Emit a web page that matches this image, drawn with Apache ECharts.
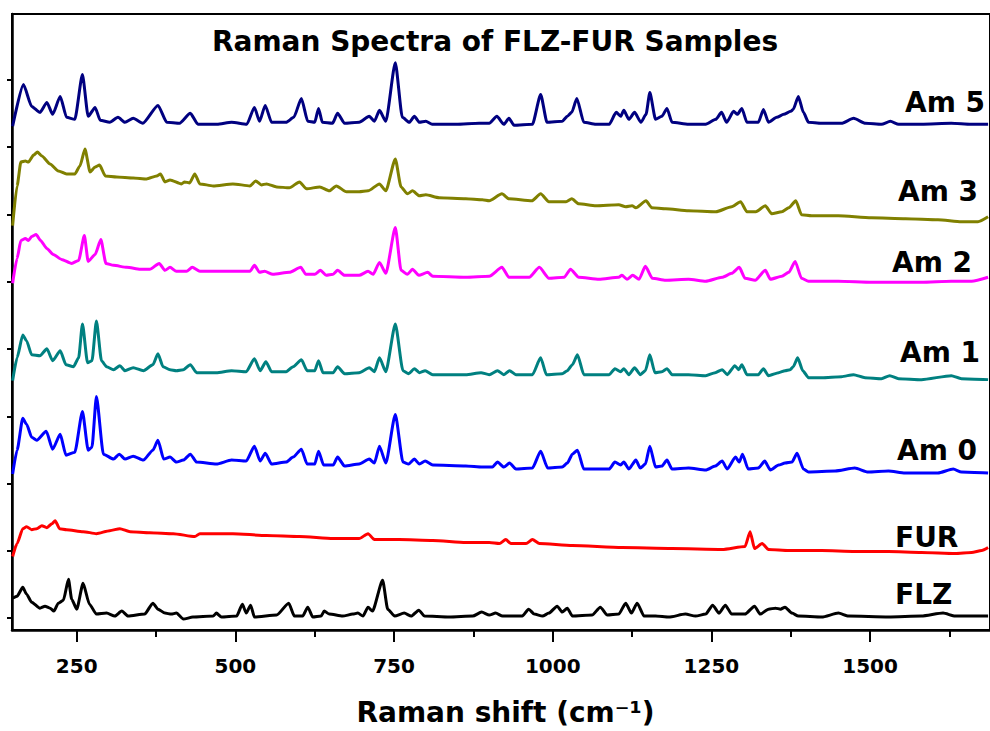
<!DOCTYPE html>
<html>
<head>
<meta charset="utf-8">
<script src="https://cdn.jsdelivr.net/npm/echarts@6/dist/echarts.min.js"></script>
<style>
  html, body { margin: 0; background: #fff; }
  #chart { width: 990px; height: 731px; }
</style>
</head>
<body>
<div id="chart"></div>
<script>
// Raman shift (cm-1) vs intensity (a.u., spectra stacked with offsets)
const sampleNames = ["Am 5", "Am 3", "Am 2", "Am 1", "Am 0", "FUR", "FLZ"];
const majorTicks = [250, 500, 750, 1000, 1250, 1500];
const minorTicks = [375, 625, 875, 1125, 1375, 1625];
const intensityTicks = [12, 80, 147, 215, 283, 351, 418, 486, 554];

const am5 = [[149,507],[166,549],[179,527],[192,521],[203,531],[212,519],[224,537],[234,516],[247,514],[259,559],[268,517],[279,526],[287,513],[302,511],[315,516],[326,511],[339,515],[354,510],[378,528],[392,511],[412,510],[429,520],[441,509],[471,509],[494,511],[518,509],[530,526],[538,512],[547,528],[557,511],[580,511],[592,516],[604,535],[614,512],[625,511],[631,525],[637,511],[653,510],[661,520],[672,510],[695,511],[711,517],[719,512],[727,523],[737,512],[752,571],[763,516],[774,511],[782,517],[790,511],[800,512],[810,509],[848,509],[884,510],[900,510],[912,517],[923,509],[931,515],[939,508],[968,509],[981,539],[991,511],[1015,512],[1023,517],[1030,521],[1038,535],[1049,511],[1068,509],[1089,509],[1100,521],[1107,517],[1112,523],[1120,514],[1129,521],[1139,511],[1147,519],[1153,541],[1162,514],[1172,517],[1180,525],[1188,511],[1214,509],[1241,509],[1257,514],[1266,521],[1274,511],[1285,522],[1291,519],[1298,525],[1306,511],[1324,511],[1332,524],[1340,511],[1353,516],[1364,519],[1375,522],[1379,524],[1387,537],[1395,521],[1403,511],[1423,510],[1455,510],[1474,515],[1493,510],[1518,509],[1532,512],[1545,509],[1581,509],[1628,510],[1659,509],[1686,509]];

const am3 = [[149,407],[156,447],[162,471],[169,472],[174,471],[182,478],[188,481],[195,477],[208,469],[221,462],[234,459],[247,459],[255,467],[263,484],[271,461],[279,466],[286,468],[295,457],[313,456],[339,455],[360,454],[376,457],[382,459],[389,451],[397,453],[415,449],[420,451],[428,450],[436,459],[444,449],[465,447],[496,449],[523,447],[532,452],[541,448],[549,449],[565,446],[585,445],[601,451],[612,444],[633,446],[648,442],[659,447],[675,441],[695,441],[709,442],[727,449],[737,442],[752,474],[761,446],[771,439],[779,442],[790,437],[800,438],[821,435],[863,434],[889,433],[900,432],[920,439],[931,434],[967,432],[981,439],[994,431],[1021,431],[1030,434],[1041,429],[1068,427],[1104,428],[1115,426],[1125,427],[1131,425],[1147,432],[1156,425],[1178,424],[1214,422],[1257,421],[1282,426],[1296,431],[1306,421],[1320,421],[1335,427],[1345,419],[1361,421],[1372,425],[1383,432],[1392,418],[1408,417],[1450,417],[1502,415],[1556,414],[1607,413],[1644,411],[1670,411],[1686,416]];

const am2 = [[149,349],[156,374],[162,392],[169,394],[174,392],[179,396],[186,398],[193,392],[203,384],[213,378],[226,373],[242,369],[253,372],[262,397],[268,371],[279,378],[288,393],[296,369],[308,367],[329,365],[350,363],[365,363],[380,369],[389,362],[397,365],[407,361],[423,361],[432,365],[444,361],[496,361],[523,361],[530,367],[538,360],[546,361],[559,358],[585,360],[603,365],[611,358],[625,358],[634,362],[643,357],[654,358],[661,362],[672,357],[695,357],[709,361],[717,358],[727,370],[737,359],[752,405],[761,362],[771,358],[779,363],[789,357],[803,360],[811,356],[863,355],[900,356],[920,365],[931,355],[963,355],[979,365],[994,354],[1018,355],[1028,363],[1041,355],[1073,353],[1104,355],[1109,357],[1117,353],[1126,357],[1136,353],[1146,366],[1157,354],[1178,352],[1214,353],[1241,351],[1267,355],[1282,359],[1294,365],[1303,354],[1319,352],[1335,362],[1343,353],[1361,356],[1372,360],[1382,371],[1392,354],[1403,351],[1450,351],[1503,350],[1555,350],[1581,350],[1628,351],[1660,351],[1686,355]];

const am1 = [[149,251],[156,274],[165,297],[171,291],[179,277],[192,276],[203,283],[212,271],[224,281],[233,267],[245,265],[253,274],[259,308],[267,269],[274,271],[281,311],[289,271],[297,265],[308,262],[318,266],[326,261],[339,264],[355,261],[370,267],[378,278],[386,265],[397,262],[407,261],[418,262],[429,267],[439,259],[470,259],[494,261],[517,260],[530,273],[539,261],[548,270],[557,260],[580,260],[591,265],[604,272],[613,261],[625,261],[631,271],[638,259],[654,259],[661,265],[672,258],[695,259],[711,264],[719,260],[727,274],[737,260],[752,308],[764,261],[773,258],[782,263],[790,259],[799,261],[811,257],[863,257],[887,259],[900,257],[913,261],[923,257],[932,261],[942,257],[968,257],[981,274],[990,257],[1015,258],[1023,261],[1031,267],[1039,277],[1049,257],[1089,257],[1098,263],[1107,260],[1112,263],[1120,257],[1129,264],[1138,257],[1146,261],[1153,277],[1161,259],[1172,260],[1180,263],[1188,257],[1214,257],[1241,256],[1256,259],[1267,262],[1275,257],[1287,266],[1293,262],[1298,267],[1306,257],[1324,257],[1332,263],[1340,256],[1356,259],[1366,261],[1374,262],[1379,265],[1386,274],[1394,261],[1403,254],[1424,254],[1455,255],[1474,257],[1492,254],[1518,253],[1531,256],[1545,253],[1581,252],[1628,256],[1644,253],[1686,252]];

const am0 = [[149,157],[156,181],[165,213],[171,207],[179,194],[187,191],[202,200],[212,182],[224,197],[233,176],[247,179],[259,220],[268,181],[274,184],[281,235],[292,177],[308,172],[317,177],[326,172],[339,175],[355,171],[370,181],[378,191],[387,172],[397,174],[407,169],[418,171],[429,177],[439,169],[470,167],[494,171],[517,170],[530,185],[539,170],[547,178],[557,167],[580,169],[591,174],[604,182],[613,167],[625,167],[631,180],[639,166],[654,166],[661,174],[672,165],[695,167],[711,172],[719,168],[727,185],[737,168],[752,217],[764,169],[773,167],[782,172],[790,167],[799,170],[811,166],[863,165],[889,164],[905,164],[913,169],[923,164],[932,168],[942,162],[968,163],[981,180],[992,163],[1015,164],[1023,168],[1031,177],[1039,181],[1049,162],[1089,162],[1098,169],[1107,166],[1112,169],[1120,162],[1131,171],[1138,163],[1146,167],[1153,185],[1162,164],[1172,165],[1180,171],[1188,162],[1214,163],[1241,161],[1256,165],[1267,170],[1275,162],[1288,174],[1294,169],[1299,177],[1308,162],[1324,163],[1334,170],[1343,161],[1356,166],[1366,168],[1377,169],[1385,178],[1395,162],[1403,159],[1445,160],[1476,163],[1497,159],[1529,160],[1555,158],[1607,158],[1631,162],[1644,159],[1686,158]];

const fur = [[149,74],[156,87],[165,102],[171,104],[179,101],[187,102],[195,105],[203,103],[211,107],[216,110],[223,102],[234,101],[260,99],[281,97],[302,100],[318,102],[334,99],[365,98],[402,97],[436,94],[444,97],[496,97],[549,95],[601,94],[654,92],[695,92],[709,97],[719,91],[758,91],[811,90],[863,88],[900,88],[916,87],[926,91],[934,87],[958,87],[968,91],[979,87],[1031,85],[1109,83],[1188,82],[1267,81],[1303,84],[1311,99],[1318,82],[1330,87],[1340,81],[1372,80],[1424,80],[1476,79],[1529,79],[1581,78],[1634,77],[1660,78],[1676,80],[1686,83]];

const flz = [[149,32],[156,34],[165,43],[171,36],[179,28],[192,22],[200,24],[208,22],[214,19],[221,27],[229,30],[237,51],[242,31],[250,21],[260,47],[270,26],[281,16],[297,17],[310,14],[321,19],[331,14],[357,16],[370,27],[378,21],[389,17],[399,16],[407,17],[418,11],[433,13],[465,14],[470,17],[478,13],[502,14],[511,26],[517,17],[524,25],[530,13],[565,15],[584,27],[593,14],[606,14],[614,23],[622,13],[635,14],[640,19],[648,16],[669,14],[685,16],[693,17],[701,14],[709,23],[716,19],[732,50],[740,21],[751,14],[766,17],[777,14],[789,20],[798,14],[837,13],[874,14],[888,18],[900,15],[910,17],[921,14],[952,14],[962,21],[971,16],[984,14],[994,17],[1007,24],[1015,18],[1023,22],[1031,14],[1062,15],[1075,23],[1086,15],[1104,16],[1115,27],[1124,17],[1133,27],[1144,14],[1162,14],[1183,13],[1209,16],[1225,14],[1241,16],[1252,25],[1262,17],[1272,25],[1282,16],[1303,16],[1318,24],[1327,16],[1340,21],[1351,22],[1359,21],[1366,23],[1377,17],[1387,14],[1424,13],[1450,17],[1466,14],[1529,13],[1581,14],[1615,17],[1634,14],[1686,14]];

const spectra = [am5, am3, am2, am1, am0, fur, flz];
const colors = ["#000080", "#808000", "#ff00ff", "#008080", "#0000ff", "#ff0000", "#000000"];
// where each sample name sits (left edge, vertical middle), in pixels
const labelSpots = [[905, 102], [898, 191], [892, 262], [900, 352], [897, 450], [895, 537], [895, 594]];

const FONT = '"DejaVu Sans", sans-serif';
const xMin = 148;
const xMax = 1689;

const chart = echarts.init(document.getElementById("chart"), null, { renderer: "svg" });

const option = {
  animation: false,
  backgroundColor: "#fff",
  title: {
    text: "Raman Spectra of FLZ-FUR Samples",
    left: "center",
    top: 27,
    padding: [0, 0, 0, 33],
    textStyle: { fontFamily: FONT, fontSize: 28, fontWeight: "bold", color: "#000" },
  },
  grid: {
    left: 12,
    right: -2,
    top: 14,
    bottom: 97,
    show: true,
    borderColor: "#000",
    borderWidth: 2,
  },
  xAxis: [
    {
      type: "value",
      min: xMin,
      max: xMax,
      position: "bottom",
      name: "Raman shift (cm⁻¹)",
      nameLocation: "middle",
      nameGap: 68,
      nameTextStyle: {
        fontFamily: FONT,
        fontSize: 28,
        fontWeight: "bold",
        color: "#000",
        padding: [0, 0, 0, 9],
      },
      axisLine: { lineStyle: { color: "#000", width: 2.5 } },
      axisTick: { customValues: majorTicks, length: 12, lineStyle: { color: "#000", width: 2 } },
      axisLabel: {
        customValues: majorTicks,
        formatter: (v) => String(v),
        margin: 26,
        fontFamily: FONT,
        fontSize: 20,
        fontWeight: "bold",
        color: "#000",
      },
      splitLine: { show: false },
    },
    {
      // minor ticks only
      type: "value",
      min: xMin,
      max: xMax,
      position: "bottom",
      axisLine: { show: false },
      axisTick: { customValues: minorTicks, length: 7, lineStyle: { color: "#000", width: 2 } },
      axisLabel: { show: false },
      splitLine: { show: false },
    },
  ],
  yAxis: {
    type: "value",
    min: 0,
    max: 620,
    axisLine: { show: true, lineStyle: { color: "#000", width: 2.5 } },
    axisTick: { show: true, customValues: intensityTicks, length: 5, lineStyle: { color: "#000", width: 2 } },
    axisLabel: { show: false },
    splitLine: { show: false },
  },
  series: spectra.map((d, i) => ({
    name: sampleNames[i],
    type: "line",
    data: d,
    showSymbol: false,
    smooth: 0.2,
    smoothMonotone: "x",
    lineStyle: { color: colors[i], width: 3 },
    itemStyle: { color: colors[i] },
    z: 3,
  })),
  graphic: sampleNames.map((n, i) => ({
    type: "text",
    x: labelSpots[i][0],
    y: labelSpots[i][1],
    silent: true,
    style: {
      text: n,
      fill: "#000",
      fontFamily: FONT,
      fontSize: 28,
      fontWeight: "bold",
      verticalAlign: "middle",
    },
  })),
};

chart.setOption(option);
</script>
</body>
</html>
